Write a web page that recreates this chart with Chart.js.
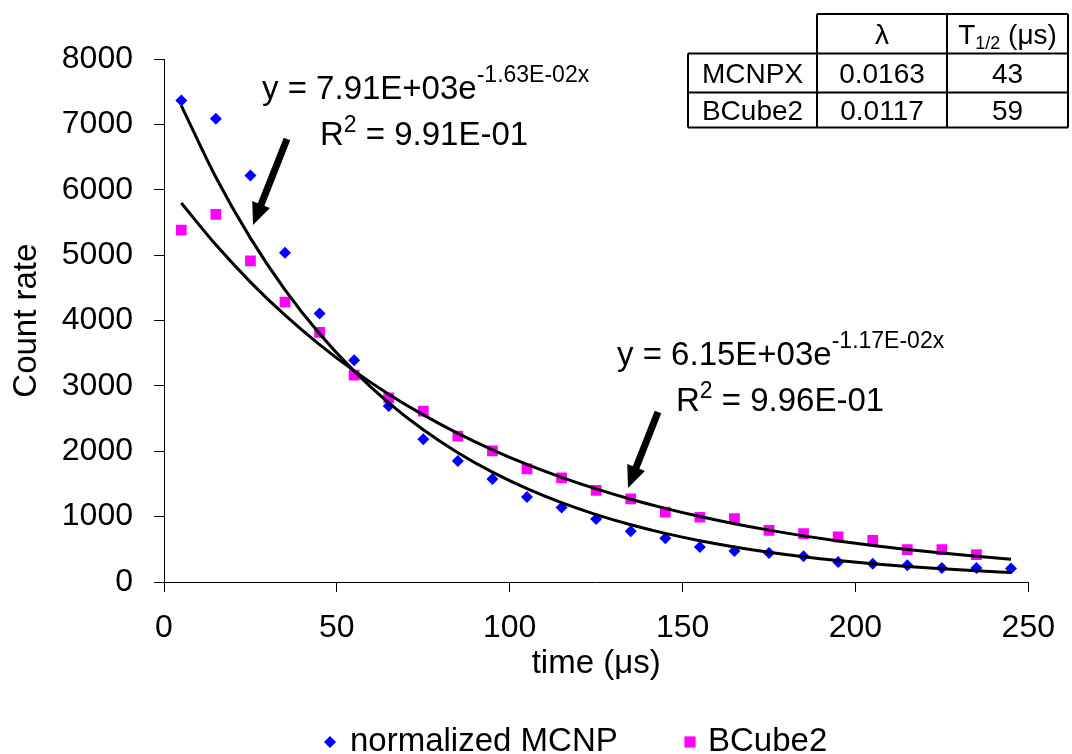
<!DOCTYPE html>
<html>
<head>
<meta charset="utf-8">
<script src="https://cdn.jsdelivr.net/npm/chart.js@4.4.1/dist/chart.umd.min.js"></script>
<style>
  html, body { margin: 0; padding: 0; background: #fff; overflow: hidden; }
  canvas { display: block; }
</style>
</head>
<body>
<canvas id="decay" width="1072" height="754"></canvas>
<script>
// Time bins (µs) and count rates for both detectors
const times = [5, 15, 25, 35, 45, 55, 65, 75, 85, 95, 105, 115, 125, 135, 145, 155, 165, 175, 185, 195, 205, 215, 225, 235, 245];
const mcnpCounts = [7370, 7090, 6220, 5040, 4110, 3395, 2695, 2185, 1853, 1577, 1302, 1139, 965, 776, 669, 536, 475, 444, 394, 306, 281, 256, 214, 214, 205];
const bcubeCounts = [5386, 5626, 4916, 4283, 3820, 3165, 2818, 2614, 2231, 2006, 1731, 1593, 1404, 1271, 1070, 991, 971, 792, 741, 689, 639, 496, 496, 420];
const seriesNames = ['normalized MCNP', 'BCube2'];

// Exponential trend lines y = A·e^(−k·x), as printed next to each curve
const fitAmplitude = [7910, 6150];
const fitDecay = [0.0163, 0.0117];
const fitEquations = ['y = 7.91E+03e', 'y = 6.15E+03e'];
const fitExponents = ['-1.63E-02x', '-1.17E-02x'];
const fitR2 = ['9.91E-01', '9.96E-01'];

// Summary table
const tableNames = ['MCNPX', 'BCube2'];
const tableLambda = ['0.0163', '0.0117'];
const tableHalfLife = ['43', '59'];

const FONT = '"Liberation Sans", Arial, Helvetica, sans-serif';

function fitCurve(i) {
  return times.map(t => ({ x: t, y: fitAmplitude[i] * Math.exp(-fitDecay[i] * t) }));
}

function superText(ctx, x, y, main, sup, mainSize, supSize, rise, tail) {
  ctx.font = mainSize + 'px ' + FONT;
  ctx.fillText(main, x, y);
  let w = ctx.measureText(main).width;
  ctx.font = supSize + 'px ' + FONT;
  ctx.fillText(sup, x + w, y - rise);
  w += ctx.measureText(sup).width;
  if (tail) {
    ctx.font = mainSize + 'px ' + FONT;
    ctx.fillText(tail, x + w, y);
  }
}

function arrow(ctx, x0, y0, x1, y1) {
  const a = Math.atan2(y1 - y0, x1 - x0);
  const c = Math.cos(a), s = Math.sin(a);
  const head = 22, half = 9.5;
  ctx.lineWidth = 7;
  ctx.lineCap = 'butt';
  ctx.beginPath();
  ctx.moveTo(x0, y0);
  ctx.lineTo(x1 - c * head * 0.8, y1 - s * head * 0.8);
  ctx.stroke();
  ctx.beginPath();
  ctx.moveTo(x1, y1);
  ctx.lineTo(x1 - c * head - s * half, y1 - s * head + c * half);
  ctx.lineTo(x1 - c * head + s * half, y1 - s * head - c * half);
  ctx.closePath();
  ctx.fill();
}

const extrasPlugin = {
  id: 'extras',
  afterDraw(chart) {
    const ctx = chart.ctx;
    ctx.save();
    ctx.fillStyle = '#000';
    ctx.strokeStyle = '#000';

    // Fit equations and R²
    ctx.textAlign = 'left';
    ctx.textBaseline = 'alphabetic';
    superText(ctx, 262, 99, fitEquations[0], fitExponents[0], 33, 23, 17);
    superText(ctx, 320, 145, 'R', '2', 33, 23, 13, ' = ' + fitR2[0]);
    superText(ctx, 617, 365, fitEquations[1], fitExponents[1], 33, 23, 17);
    superText(ctx, 676, 411, 'R', '2', 33, 23, 13, ' = ' + fitR2[1]);

    // Pointer arrows to each trend line
    arrow(ctx, 287, 139, 253, 225);
    arrow(ctx, 658, 412, 628, 488);

    // Table of decay constants and half-lives
    const tx = [688, 817, 947, 1068];
    const ty = [14, 53.5, 92.5, 127.5];
    ctx.lineWidth = 2;
    ctx.beginPath();
    ctx.moveTo(tx[1], ty[0]); ctx.lineTo(tx[3], ty[0]);
    ctx.moveTo(tx[0], ty[1]); ctx.lineTo(tx[3], ty[1]);
    ctx.moveTo(tx[0], ty[2]); ctx.lineTo(tx[3], ty[2]);
    ctx.moveTo(tx[0], ty[3]); ctx.lineTo(tx[3], ty[3]);
    ctx.moveTo(tx[0], ty[1]); ctx.lineTo(tx[0], ty[3]);
    ctx.moveTo(tx[1], ty[0]); ctx.lineTo(tx[1], ty[3]);
    ctx.moveTo(tx[2], ty[0]); ctx.lineTo(tx[2], ty[3]);
    ctx.moveTo(tx[3], ty[0]); ctx.lineTo(tx[3], ty[3]);
    ctx.stroke();

    const cx = [(tx[0] + tx[1]) / 2, (tx[1] + tx[2]) / 2, (tx[2] + tx[3]) / 2];
    const base = [43.5, 83, 120];
    ctx.textAlign = 'center';
    ctx.font = '28px ' + FONT;
    ctx.fillText('λ', cx[1], base[0]);
    for (let r = 0; r < tableNames.length; r++) {
      ctx.fillText(tableNames[r], cx[0], base[r + 1]);
      ctx.fillText(tableLambda[r], cx[1], base[r + 1]);
      ctx.fillText(tableHalfLife[r], cx[2], base[r + 1]);
    }
    // T with subscript 1/2, then unit
    ctx.textAlign = 'left';
    ctx.font = '28px ' + FONT;
    const wT = ctx.measureText('T').width;
    const wU = ctx.measureText(' (μs)').width;
    ctx.font = '18px ' + FONT;
    const wS = ctx.measureText('1/2').width;
    const hx = cx[2] - (wT + wS + wU) / 2;
    ctx.font = '28px ' + FONT;
    ctx.fillText('T', hx, base[0]);
    ctx.font = '18px ' + FONT;
    ctx.fillText('1/2', hx + wT, base[0] + 5);
    ctx.font = '28px ' + FONT;
    ctx.fillText(' (μs)', hx + wT + wS, base[0]);

    // Legend
    const ly = 742;
    const mcnpX = 330, bcubeX = 690;
    ctx.fillStyle = '#0000FF';
    const d = 6;
    ctx.beginPath();
    ctx.moveTo(mcnpX - d, ly); ctx.lineTo(mcnpX, ly - d);
    ctx.lineTo(mcnpX + d, ly); ctx.lineTo(mcnpX, ly + d);
    ctx.closePath(); ctx.fill();
    ctx.fillStyle = '#FF00FF';
    ctx.fillRect(bcubeX - 5.6, ly - 5.6, 11.2, 11.2);
    ctx.fillStyle = '#000';
    ctx.font = '33px ' + FONT;
    ctx.textAlign = 'left';
    ctx.fillText(seriesNames[0], 350, 751);
    ctx.fillText(seriesNames[1], 708, 751);

    ctx.restore();
  }
};

const tickFont = { family: FONT, size: 32 };
const titleFont = { family: FONT, size: 33 };

new Chart(document.getElementById('decay'), {
  type: 'scatter',
  data: {
    datasets: [
      {
        label: 'fit ' + seriesNames[0],
        data: fitCurve(0),
        showLine: true,
        borderColor: '#000',
        borderWidth: 3,
        pointRadius: 0,
        cubicInterpolationMode: 'monotone'
      },
      {
        label: 'fit ' + seriesNames[1],
        data: fitCurve(1),
        showLine: true,
        borderColor: '#000',
        borderWidth: 3,
        pointRadius: 0,
        cubicInterpolationMode: 'monotone'
      },
      {
        label: seriesNames[0],
        data: times.map((t, i) => ({ x: t, y: mcnpCounts[i] })),
        pointStyle: 'rectRot',
        pointRadius: 6,
        pointBackgroundColor: '#0000FF',
        pointBorderColor: '#0000FF',
        pointBorderWidth: 0
      },
      {
        label: seriesNames[1],
        data: bcubeCounts.map((v, i) => ({ x: times[i], y: v })),
        pointStyle: 'rect',
        pointRadius: 7.6,
        pointBackgroundColor: '#FF00FF',
        pointBorderColor: '#FF00FF',
        pointBorderWidth: 0
      }
    ]
  },
  options: {
    responsive: false,
    animation: false,
    events: [],
    layout: { padding: { left: 0, right: 33, top: 59.3, bottom: 66 } },
    plugins: {
      legend: { display: false },
      tooltip: { enabled: false }
    },
    scales: {
      x: {
        type: 'linear',
        min: 0,
        max: 250,
        ticks: { stepSize: 50, color: '#000', font: tickFont, padding: 17, maxRotation: 0,
                 callback: v => String(v) },
        grid: { drawOnChartArea: false, drawTicks: true, tickLength: 10, color: '#000', lineWidth: 1 },
        border: { display: true, color: '#000', width: 1 },
        title: { display: true, text: 'time (μs)', color: '#000', font: titleFont, padding: { top: 4, bottom: 4 } },
        afterFit(s) { s.height = 106; }
      },
      y: {
        type: 'linear',
        min: 0,
        max: 8000,
        ticks: { stepSize: 1000, color: '#000', font: tickFont, padding: 21,
                 callback: v => String(v) },
        grid: { drawOnChartArea: false, drawTicks: true, tickLength: 10, color: '#000', lineWidth: 1 },
        border: { display: true, color: '#000', width: 1 },
        title: { display: true, text: 'Count rate', color: '#000', font: titleFont, padding: { top: 7, bottom: 4 } },
        afterFit(s) { s.width = 164; }
      }
    }
  },
  plugins: [extrasPlugin]
});
</script>
</body>
</html>
